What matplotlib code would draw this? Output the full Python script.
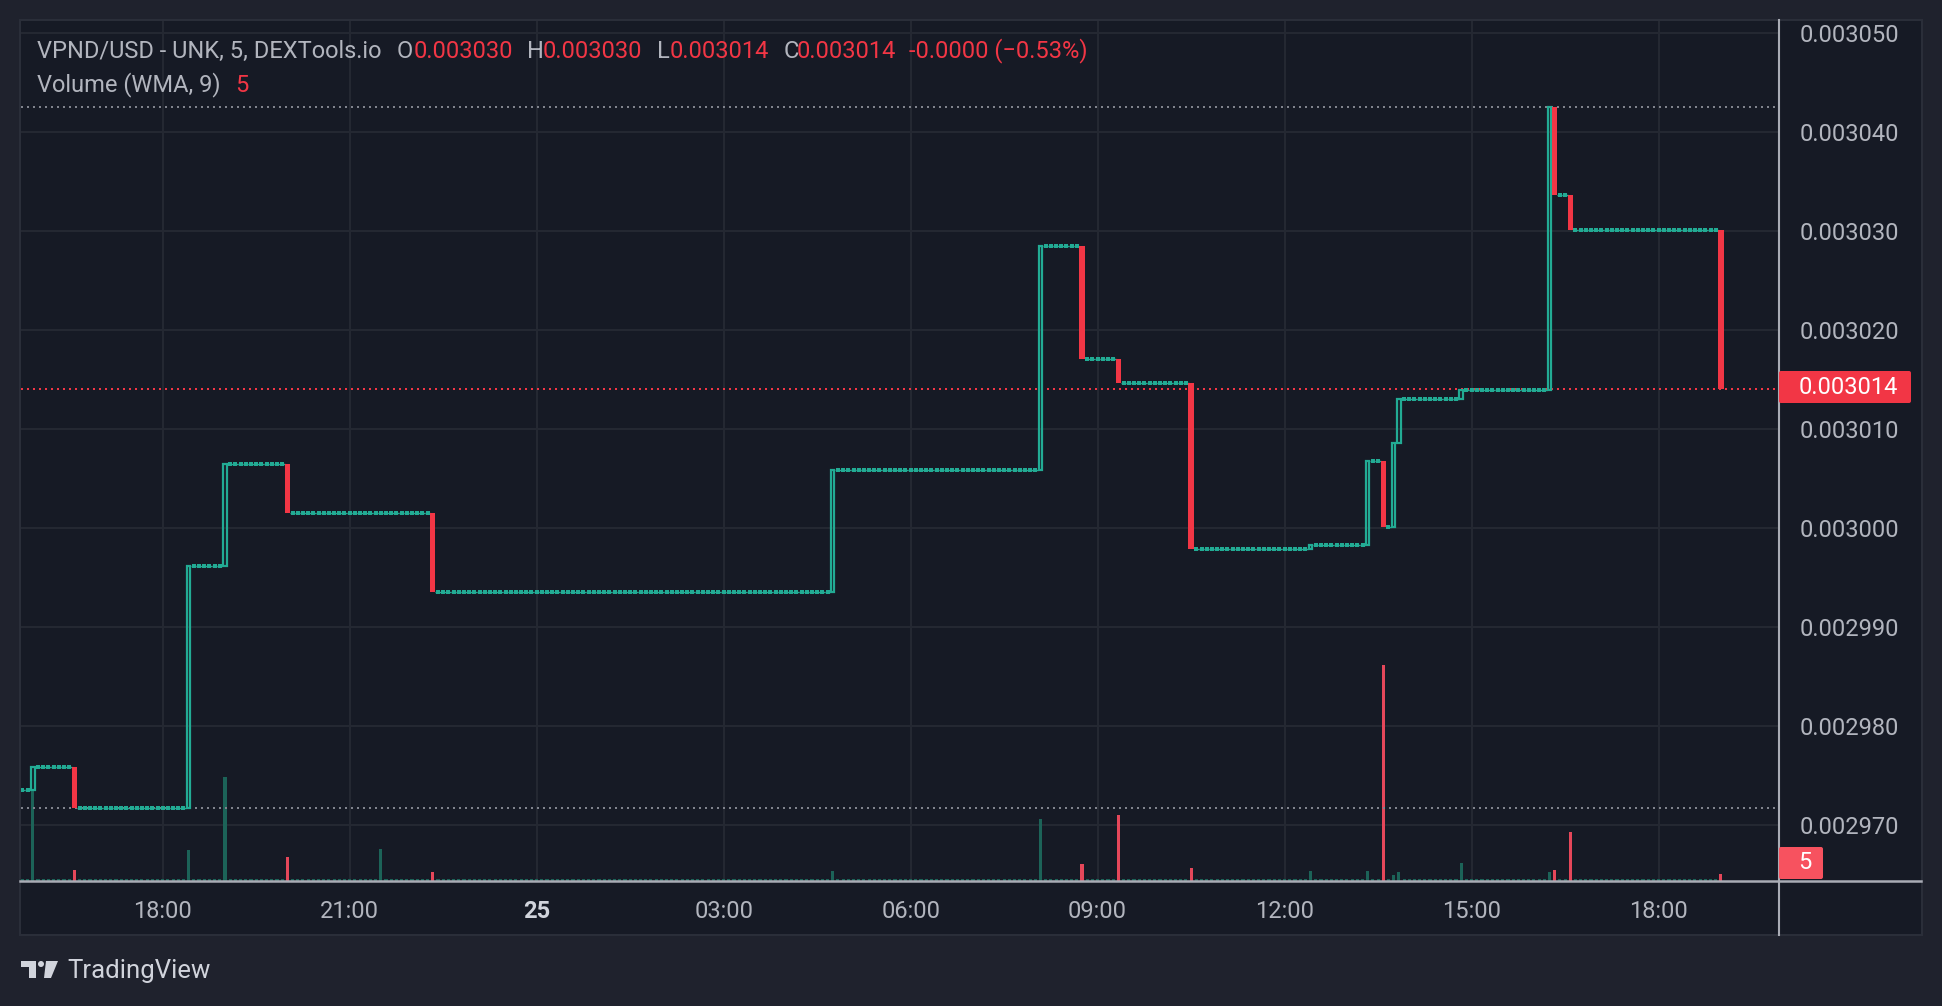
import matplotlib
matplotlib.use("Agg")
import matplotlib.pyplot as plt
import matplotlib.transforms as mtransforms
from matplotlib.patches import Rectangle, Circle, Polygon, FancyBboxPatch
from matplotlib.lines import Line2D

# ---------------- data ----------------
# bar index = number of 5-minute steps from 18:00 on the 24th
first_bar = -27          # 15:45
last_bar = 300           # 19:00 on the 25th
start_price = 0.0029735

# bars where the price moved (open = previous close), and their close
move_bars = [-25, -17, 5, 12, 24, 52, 129, 169, 177, 184, 198,
             221, 232, 235, 237, 238, 250, 267, 268, 271, 300]
move_close = [0.0029758, 0.0029717, 0.0029961, 0.0030064, 0.0030015, 0.0029935,
              0.0030058, 0.0030285, 0.0030170, 0.0030146, 0.0029978,
              0.0029983, 0.0030067, 0.0030001, 0.0030086, 0.0030130, 0.0030139,
              0.0030425, 0.0030336, 0.0030301, 0.0030140]

# bars with visible volume; every other bar has a tiny base volume
vol_bars = [-25, -17, 5, 12, 24, 42, 52, 129, 169, 177, 184, 198,
            221, 232, 235, 237, 238, 250, 267, 268, 271, 300]
vol_values = [64, 8, 22, 74, 17, 23, 6, 7, 44, 12, 47, 9,
              7, 7, 154, 4, 6, 13, 6, 8, 35, 5]
base_volume = 1

tick_bars = [0, 36, 72, 108, 144, 180, 216, 252, 288]
tick_labels = ["18:00", "21:00", "25", "03:00", "06:00", "09:00", "12:00", "15:00", "18:00"]
price_ticks = [0.002970, 0.002980, 0.002990, 0.003000, 0.003010,
               0.003020, 0.003030, 0.003040, 0.003050]

high_price = 0.0030425
low_price = 0.0029717
last_price = 0.003014
last_volume = 5

header_title = "VPND/USD - UNK, 5, DEXTools.io"
header_o, header_h, header_l, header_c = "0.003030", "0.003030", "0.003014", "0.003014"
header_change = "-0.0000 (\u22120.53%)"
volume_title = "Volume (WMA, 9)"

# ---------------- build candles ----------------
bars = list(range(first_bar, last_bar + 1))
moves = dict(zip(move_bars, move_close))
opens, closes = [], []
prev = start_price
for b in bars:
    c = moves.get(b, prev)
    opens.append(prev)
    closes.append(c)
    prev = c
vmap = dict(zip(vol_bars, vol_values))
volumes = [vmap.get(b, base_volume) for b in bars]

# ---------------- style ----------------
plt.rcParams['font.family'] = ['Roboto', 'DejaVu Sans']
W, H, DPI = 1942, 1006, 100
OUT = '#1f222d'
BG = '#161a25'
BORDER = '#2a2e39'
GRID = '#242832'
TXT = '#b2b5be'
UP = '#22ab94'
DN = '#f23645'
VUP = '#1c6358'
VDN = '#e5475a'
AXLINE = '#a9acb5'
FS = 17

fig = plt.figure(figsize=(W / DPI, H / DPI), dpi=DPI, facecolor=OUT)
pix = mtransforms.Affine2D().scale(1.0 / W, -1.0 / H).translate(0, 1) + fig.transFigure

# panel
fig.patches.append(Rectangle((20, 20), 1901.5, 915.5, transform=pix, fc=BG, ec=BORDER,
                             lw=1.5, zorder=-2))

L, R, T, B = 20.5, 1779.0, 20.5, 880.7
rect = [L / W, 1 - B / H, (R - L) / W, (B - T) / H]

ppb = 5.194          # pixels per bar
x18 = 162.7          # pixel x of 18:00
xmin = (L - x18) / ppb
xmax = (R - x18) / ppb
p_per_px = 1e-5 / 99.0
ytop_p = 0.003050 + (32.7 - T) * p_per_px
ybot_p = 0.003050 - (B - 32.7) * p_per_px

# grid + volume axes (below)
axv = fig.add_axes(rect, zorder=0.5)
ax = fig.add_axes(rect, zorder=1, sharex=axv)
for a in (ax, axv):
    a.set_facecolor('none')
    for s in a.spines.values():
        s.set_visible(False)
ax.set_xlim(xmin, xmax)
ax.set_ylim(ybot_p, ytop_p)
axv.set_ylim(0, (B - T) / 1.4)

axv.vlines(tick_bars, 0, 1, transform=axv.get_xaxis_transform(), color=GRID, lw=1.5, zorder=0)
axv.hlines(price_ticks, 0, 1, transform=ax.get_yaxis_transform(), color=GRID, lw=1.5, zorder=0)
vcols = [VUP if c >= o else VDN for o, c in zip(opens, closes)]
axv.bar(bars, volumes, width=0.6, color=vcols, linewidth=0, zorder=2)
axv.tick_params(left=False, labelleft=False, bottom=False, labelbottom=False)

# candles
doji_x, doji_y = [], []
for b, o, c in zip(bars, opens, closes):
    if c > o:
        wg = 3.5 / ppb
        ax.add_patch(Rectangle((b - wg / 2, o), wg, c - o, fill=False, ec=UP, lw=1.6, zorder=4))
    elif c < o:
        wr = 5.3 / ppb
        ax.add_patch(Rectangle((b - wr / 2, c), wr, o - c, fc=DN, ec='none', lw=0, zorder=4))
    else:
        doji_x.append(b)
        doji_y.append(c)
ax.hlines(doji_y, [x - 0.5 for x in doji_x], [x + 0.5 for x in doji_x], color=UP, lw=1.0, zorder=3)
ax.scatter(doji_x, doji_y, marker='s', s=5.0, color=UP, linewidths=0, zorder=3)

# high / low / last price lines
ax.axhline(high_price, color='#80838d', ls=(0, (1, 2)), lw=1.44, zorder=2)
ax.axhline(low_price, color='#80838d', ls=(0, (1, 2)), lw=1.44, zorder=2)
ax.axhline(last_price, color=DN, ls=(0, (1, 2)), lw=1.44, zorder=2)

# axes ticks
ax.yaxis.tick_right()
ax.set_yticks(price_ticks)
ax.set_yticklabels([f"{p:.6f}" for p in price_ticks])
ax.tick_params(axis='y', length=0, pad=15, labelsize=FS, labelcolor=TXT)
ax.set_xticks(tick_bars)
ax.set_xticklabels(tick_labels)
ax.tick_params(axis='x', length=0, pad=14, labelsize=FS, labelcolor=TXT)
for lab in ax.get_xticklabels():
    if lab.get_text() == "25":
        lab.set_fontweight('bold')
        lab.set_color('#d1d4dc')

# axis lines
fig.lines.append(Line2D([1779, 1779], [20, 935], transform=pix, color=AXLINE, lw=1.5, zorder=5))
fig.lines.append(Line2D([20, 1921], [880.7, 880.7], transform=pix, color=AXLINE, lw=1.8, zorder=5))

# last price label
fig.patches.append(FancyBboxPatch((1779, 371), 132, 32, boxstyle="round,pad=0,rounding_size=2",
                                  transform=pix, fc=DN, ec='none', zorder=6))
fig.text(1799, 387.5, f"{last_price:.6f}", transform=pix, color='white', fontsize=FS,
         va='center', ha='left', zorder=7)
fig.patches.append(FancyBboxPatch((1779, 847), 44, 32, boxstyle="round,pad=0,rounding_size=2",
                                  transform=pix, fc='#f7525f', ec='none', zorder=6))
fig.text(1805, 863, f"{last_volume}", transform=pix, color='white', fontsize=FS,
         va='center', ha='center', zorder=7)

# header
hy = 51
fig.text(37, hy, header_title, transform=pix, color=TXT, fontsize=FS, va='center', zorder=7)
for x, s, col in [(397, "O", TXT), (414, header_o, DN), (527, "H", TXT), (543, header_h, DN),
                  (657, "L", TXT), (670, header_l, DN), (784, "C", TXT), (797, header_c, DN),
                  (909, header_change, DN)]:
    fig.text(x, hy, s, transform=pix, color=col, fontsize=FS, va='center', zorder=7)
fig.text(37, 85, volume_title, transform=pix, color=TXT, fontsize=FS, va='center', zorder=7)
fig.text(235, 85, f"{last_volume}", transform=pix, color=DN, fontsize=FS, va='center', zorder=7)

# TradingView logo
LOGO = '#d1d4dc'
fig.patches.append(Rectangle((21, 961), 15, 6, transform=pix, fc=LOGO, ec='none', zorder=6))
fig.patches.append(Rectangle((29, 961), 7, 17, transform=pix, fc=LOGO, ec='none', zorder=6))
fig.patches.append(Circle((41, 964), 3, transform=pix, fc=LOGO, ec='none', zorder=6))
fig.patches.append(Polygon([(46, 961), (58, 961), (51, 978), (44, 978)], closed=True,
                           transform=pix, fc=LOGO, ec='none', zorder=6))
fig.text(67, 971, "TradingView", transform=pix, color=LOGO, fontsize=18.5, va='center', zorder=7)

fig.savefig("out.png", dpi=DPI, facecolor=OUT)
